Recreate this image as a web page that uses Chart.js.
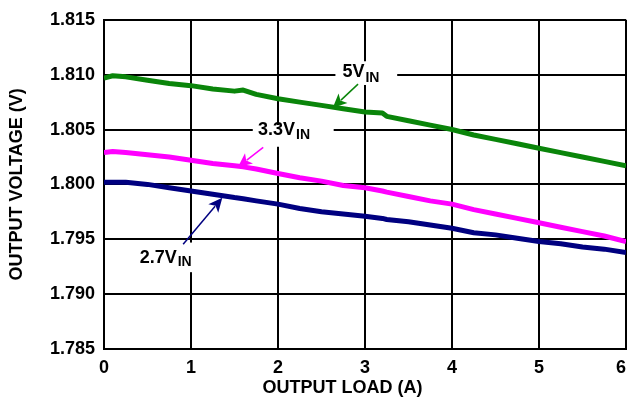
<!DOCTYPE html>
<html>
<head>
<meta charset="utf-8">
<script src="https://cdn.jsdelivr.net/npm/chart.js@4/dist/chart.umd.min.js"></script>
<style>
  html, body { margin: 0; padding: 0; background: #fff; }
  #c { display: block; }
</style>
</head>
<body>
<canvas id="c" width="627" height="401"></canvas>
<script>
// ---- data ----
const loads = [0, 0.1, 0.25, 0.5, 0.75, 1.0, 1.25, 1.5, 1.6, 1.75, 2.0, 2.25, 2.5, 2.75, 3.0, 3.2, 3.25, 3.5, 3.75, 4.0, 4.25, 4.5, 4.75, 5.0, 5.25, 5.5, 5.75, 6.0];
const vin5 = [1.8097, 1.8099, 1.8098, 1.8095, 1.8092, 1.8090, 1.8087, 1.8085, 1.8086, 1.8082, 1.8078, 1.8075, 1.8072, 1.8069, 1.8066, 1.8065, 1.8062, 1.8058, 1.8054, 1.8050, 1.8045, 1.8041, 1.8037, 1.8033, 1.8029, 1.8025, 1.8021, 1.8017];
const vin33 = [1.8029, 1.8030, 1.8029, 1.8027, 1.8025, 1.8022, 1.8019, 1.8017, 1.8016, 1.8014, 1.8010, 1.8006, 1.8003, 1.7999, 1.7997, 1.7994, 1.7993, 1.7989, 1.7985, 1.7982, 1.7977, 1.7973, 1.7969, 1.7965, 1.7961, 1.7957, 1.7953, 1.7948];
const vin27 = [1.8002, 1.8002, 1.8002, 1.8000, 1.7997, 1.7994, 1.7991, 1.7988, 1.7987, 1.7985, 1.7982, 1.7978, 1.7975, 1.7973, 1.7971, 1.7969, 1.7968, 1.7966, 1.7963, 1.7960, 1.7956, 1.7954, 1.7951, 1.7948, 1.7946, 1.7943, 1.7941, 1.7938];
const seriesNames = ['5V', '3.3V', '2.7V'];
const xTicks = [0, 1, 2, 3, 4, 5, 6];
const yTicks = [1.785, 1.790, 1.795, 1.800, 1.805, 1.810, 1.815];
const xTitle = 'OUTPUT LOAD (A)';
const yTitle = 'OUTPUT VOLTAGE (V)';

// annotation anchors in data units: label text start/baseline, subscript baseline, white box, arrow tail, arrow tip
const labels = [
  { main: '5V',   sub: 'IN', color: '#0a850a', tx: 2.74, ty: 1.80975, sy: 1.80932, box: [2.66, 1.81122, 3.37, 1.80906], tail: [2.92, 1.80914], tip: [2.63, 1.80698] },
  { main: '3.3V', sub: 'IN', color: '#ff00ff', tx: 1.77, ty: 1.80446, sy: 1.80410, box: [1.71, 1.80541, 2.64, 1.80343], tail: [1.83, 1.80338], tip: [1.54, 1.80158] },
  { main: '2.7V', sub: 'IN', color: '#000080', tx: 0.41, ty: 1.79287, sy: 1.79255, box: [0.36, 1.79470, 1.08, 1.79200], tail: [0.91, 1.79455], tip: [1.36, 1.79878] }
];

const FONT = 'Arial, "Liberation Sans", Helvetica, sans-serif';

function pts(ys) { return loads.map((x, i) => ({ x: x, y: ys[i] })); }

const annotationPlugin = {
  id: 'annot',
  beforeDatasetsDraw(chart) {
    const { ctx, scales: { x, y } } = chart;
    ctx.save();
    ctx.fillStyle = '#fff';
    labels.forEach(l => {
      const x0 = x.getPixelForValue(l.box[0]), y0 = y.getPixelForValue(l.box[1]);
      const x1 = x.getPixelForValue(l.box[2]), y1 = y.getPixelForValue(l.box[3]);
      ctx.fillRect(x0, y0, x1 - x0, y1 - y0);
    });
    ctx.restore();
  },
  afterDatasetsDraw(chart) {
    const { ctx, scales: { x, y } } = chart;
    ctx.save();
    labels.forEach(l => {
      ctx.fillStyle = '#000';
      ctx.textBaseline = 'alphabetic';
      ctx.textAlign = 'left';
      ctx.font = 'bold 18px ' + FONT;
      const px = x.getPixelForValue(l.tx);
      ctx.fillText(l.main, px, y.getPixelForValue(l.ty));
      const w = ctx.measureText(l.main).width;
      ctx.font = 'bold 14px ' + FONT;
      ctx.fillText(l.sub, px + w + 1, y.getPixelForValue(l.sy));
      // arrow
      const ax = x.getPixelForValue(l.tail[0]), ay = y.getPixelForValue(l.tail[1]);
      const bx = x.getPixelForValue(l.tip[0]), by = y.getPixelForValue(l.tip[1]);
      const ang = Math.atan2(by - ay, bx - ax);
      const hl = 14, hw = 6.5;
      ctx.strokeStyle = l.color;
      ctx.fillStyle = l.color;
      ctx.lineWidth = 1.5;
      ctx.beginPath();
      ctx.moveTo(ax, ay);
      ctx.lineTo(bx - Math.cos(ang) * hl * 0.8, by - Math.sin(ang) * hl * 0.8);
      ctx.stroke();
      ctx.beginPath();
      ctx.moveTo(bx, by);
      ctx.lineTo(bx - Math.cos(ang) * hl + Math.sin(ang) * hw, by - Math.sin(ang) * hl - Math.cos(ang) * hw);
      ctx.lineTo(bx - Math.cos(ang) * hl * 0.75, by - Math.sin(ang) * hl * 0.75);
      ctx.lineTo(bx - Math.cos(ang) * hl - Math.sin(ang) * hw, by - Math.sin(ang) * hl + Math.cos(ang) * hw);
      ctx.closePath();
      ctx.fill();
    });
    ctx.restore();
  }
};

new Chart(document.getElementById('c'), {
  type: 'line',
  data: {
    datasets: [
      { label: seriesNames[0], data: pts(vin5), borderColor: '#0a850a', borderWidth: 5 },
      { label: seriesNames[1], data: pts(vin33), borderColor: '#ff00ff', borderWidth: 5 },
      { label: seriesNames[2], data: pts(vin27), borderColor: '#000080', borderWidth: 5 }
    ]
  },
  options: {
    responsive: false,
    animation: false,
    devicePixelRatio: 1,
    layout: { padding: { top: 16, right: 1, left: 0, bottom: 0 } },
    elements: { point: { radius: 0 }, line: { tension: 0, borderCapStyle: 'butt', borderJoinStyle: 'round' } },
    plugins: { legend: { display: false }, tooltip: { enabled: false } },
    scales: {
      x: {
        type: 'linear', min: 0, max: 6,
        afterBuildTicks: s => { s.ticks = xTicks.map(v => ({ value: v })); },
        afterFit: s => { s.height = 52; s.paddingRight = 0; s.paddingLeft = 0; },
        grid: { color: '#000', lineWidth: 2, drawTicks: false },
        border: { color: '#000', width: 2 },
        ticks: {
          color: '#000', padding: 8, maxRotation: 0,
          font: { family: FONT, size: 18, weight: 'bold' },
          callback: v => (v === 6 ? '6\u2007' : String(v))
        },
        title: {
          display: true, text: xTitle + '\u2007\u2007\u2007\u2007 ', color: '#000',
          font: { family: FONT, size: 18, weight: 'bold' }, padding: { top: 0, bottom: 2 }
        }
      },
      y: {
        type: 'linear', min: 1.785, max: 1.815,
        afterBuildTicks: s => { s.ticks = yTicks.map(v => ({ value: v })); },
        afterFit: s => { s.width = 104; },
        grid: { color: '#000', lineWidth: 2, drawTicks: false },
        border: { color: '#000', width: 2 },
        ticks: {
          color: '#000', padding: 9,
          font: { family: FONT, size: 18, weight: 'bold' },
          callback: v => Number(v).toFixed(3)
        },
        title: {
          display: true, text: yTitle, color: '#000',
          font: { family: FONT, size: 18, weight: 'bold' }, padding: { top: 6, bottom: 0 }
        }
      }
    }
  },
  plugins: [annotationPlugin]
});
</script>
</body>
</html>
